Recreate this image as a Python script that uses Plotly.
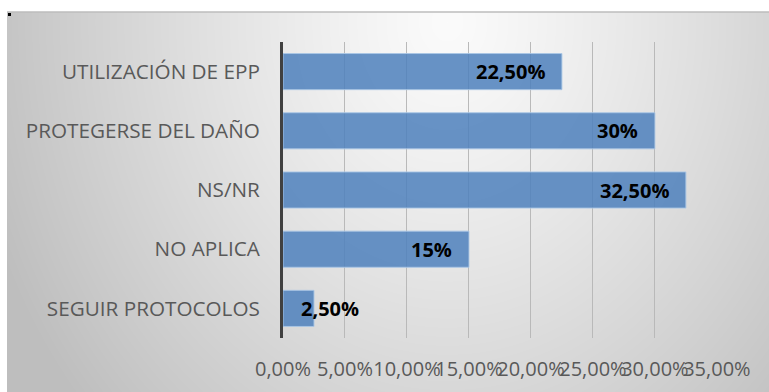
import base64
import struct
import zlib

import numpy as np
import plotly.graph_objects as go

# ---- data ----
categories = ["UTILIZACIÓN DE EPP", "PROTEGERSE DEL DAÑO", "NS/NR", "NO APLICA", "SEGUIR PROTOCOLOS"]
values = [0.225, 0.30, 0.325, 0.15, 0.025]
value_labels = ["22,50%", "30%", "32,50%", "15%", "2,50%"]
tick_values = [0, 0.05, 0.10, 0.15, 0.20, 0.25, 0.30, 0.35]

# ---- page geometry (px) ----
W, H = 769, 392
M_L, M_R, M_T, M_B = 283, 52, 42, 54
PW, PH = W - M_L - M_R, H - M_T - M_B
BOX_X0, BOX_Y0 = 7, 12  # top-left corner of the shaded chart area


def px_to_paper_x(px):
    return (px - M_L) / PW


def px_to_paper_y(py):
    return (H - M_B - py) / PH


def png_data_uri(rgb):
    """Encode an (h, w, 3) uint8 array as a PNG data URI."""
    h, w, _ = rgb.shape
    raw = b"".join(b"\x00" + rgb[i].tobytes() for i in range(h))

    def chunk(tag, data):
        body = tag + data
        return struct.pack(">I", len(data)) + body + struct.pack(">I", zlib.crc32(body) & 0xFFFFFFFF)

    png = b"\x89PNG\r\n\x1a\n"
    png += chunk(b"IHDR", struct.pack(">IIBBBBB", w, h, 8, 2, 0, 0, 0))
    png += chunk(b"IDAT", zlib.compress(raw, 9))
    png += chunk(b"IEND", b"")
    return "data:image/png;base64," + base64.b64encode(png).decode()


# soft radial shading for the chart area: light near the top centre, grey at the edges
bw, bh = W - BOX_X0, H - BOX_Y0
yy, xx = np.mgrid[0:bh, 0:bw].astype(float)
d = np.sqrt(((xx - 440) / 470.0) ** 2 + ((yy - 10) / 560.0) ** 2)
g = np.clip(251 - 58 * d ** 1.2, 190, 252).astype(np.uint8)
bg = np.dstack([g, g, g])
bg_uri = png_data_uri(bg)

# ---- value labels placed at the bar ends ----
annotations = []
for cat, v, lab in zip(categories, values, value_labels):
    if v >= 0.05:
        annotations.append(dict(x=v, y=cat, xref="x", yref="y", text=lab, showarrow=False,
                                xanchor="right", yanchor="middle", xshift=-15))
    else:
        annotations.append(dict(x=v / 2, y=cat, xref="x", yref="y", text=lab, showarrow=False,
                                xanchor="left", yanchor="middle"))

fig = go.Figure(
    go.Bar(
        x=values,
        y=categories,
        orientation="h",
        marker=dict(color="rgba(79,129,189,0.86)", line=dict(color="rgba(170,198,230,0.9)", width=1)),
        hoverinfo="skip",
    )
)

fig.update_layout(
    width=W,
    height=H,
    margin=dict(l=M_L, r=M_R, t=M_T, b=M_B, pad=0),
    paper_bgcolor="white",
    plot_bgcolor="rgba(0,0,0,0)",
    bargap=0.39,
    showlegend=False,
    separators=",.",
    font=dict(family="Open Sans", color="#595959"),
    annotations=[dict(a, font=dict(family="Open Sans", size=20, color="black", weight="bold"))
                 for a in annotations],
    images=[
        dict(
            source=bg_uri,
            xref="paper",
            yref="paper",
            x=px_to_paper_x(BOX_X0),
            y=px_to_paper_y(BOX_Y0),
            sizex=bw / PW,
            sizey=bh / PH,
            xanchor="left",
            yanchor="top",
            sizing="stretch",
            layer="below",
        )
    ],
    shapes=[
        # top edge of the chart area
        dict(type="line", xref="paper", yref="paper",
             x0=px_to_paper_x(BOX_X0), x1=px_to_paper_x(W),
             y0=px_to_paper_y(BOX_Y0), y1=px_to_paper_y(BOX_Y0),
             line=dict(color="#bdbdbd", width=1.5)),
        # small handle at the top-left corner
        dict(type="rect", xref="paper", yref="paper",
             x0=px_to_paper_x(BOX_X0 + 1), x1=px_to_paper_x(BOX_X0 + 4),
             y0=px_to_paper_y(BOX_Y0 + 1), y1=px_to_paper_y(BOX_Y0 + 4),
             fillcolor="black", line=dict(width=0)),
    ],
)

fig.update_xaxes(
    range=[0, 0.3501],
    tickvals=tick_values,
    tickformat=".2%",
    tickangle=0,
    automargin=False,
    showgrid=True,
    gridcolor="rgb(185,185,185)",
    gridwidth=1,
    zeroline=False,
    showline=False,
    ticks="",
    ticklabelstandoff=17,
    tickfont=dict(family="Open Sans", size=20, color="#595959"),
)

fig.update_yaxes(
    autorange="reversed",
    automargin=False,
    showgrid=False,
    zeroline=False,
    showline=True,
    linecolor="#404040",
    linewidth=3,
    ticks="",
    ticklabelstandoff=16,
    tickfont=dict(family="Open Sans", size=20.7, color="#595959"),
)

fig.write_html("out.html")
